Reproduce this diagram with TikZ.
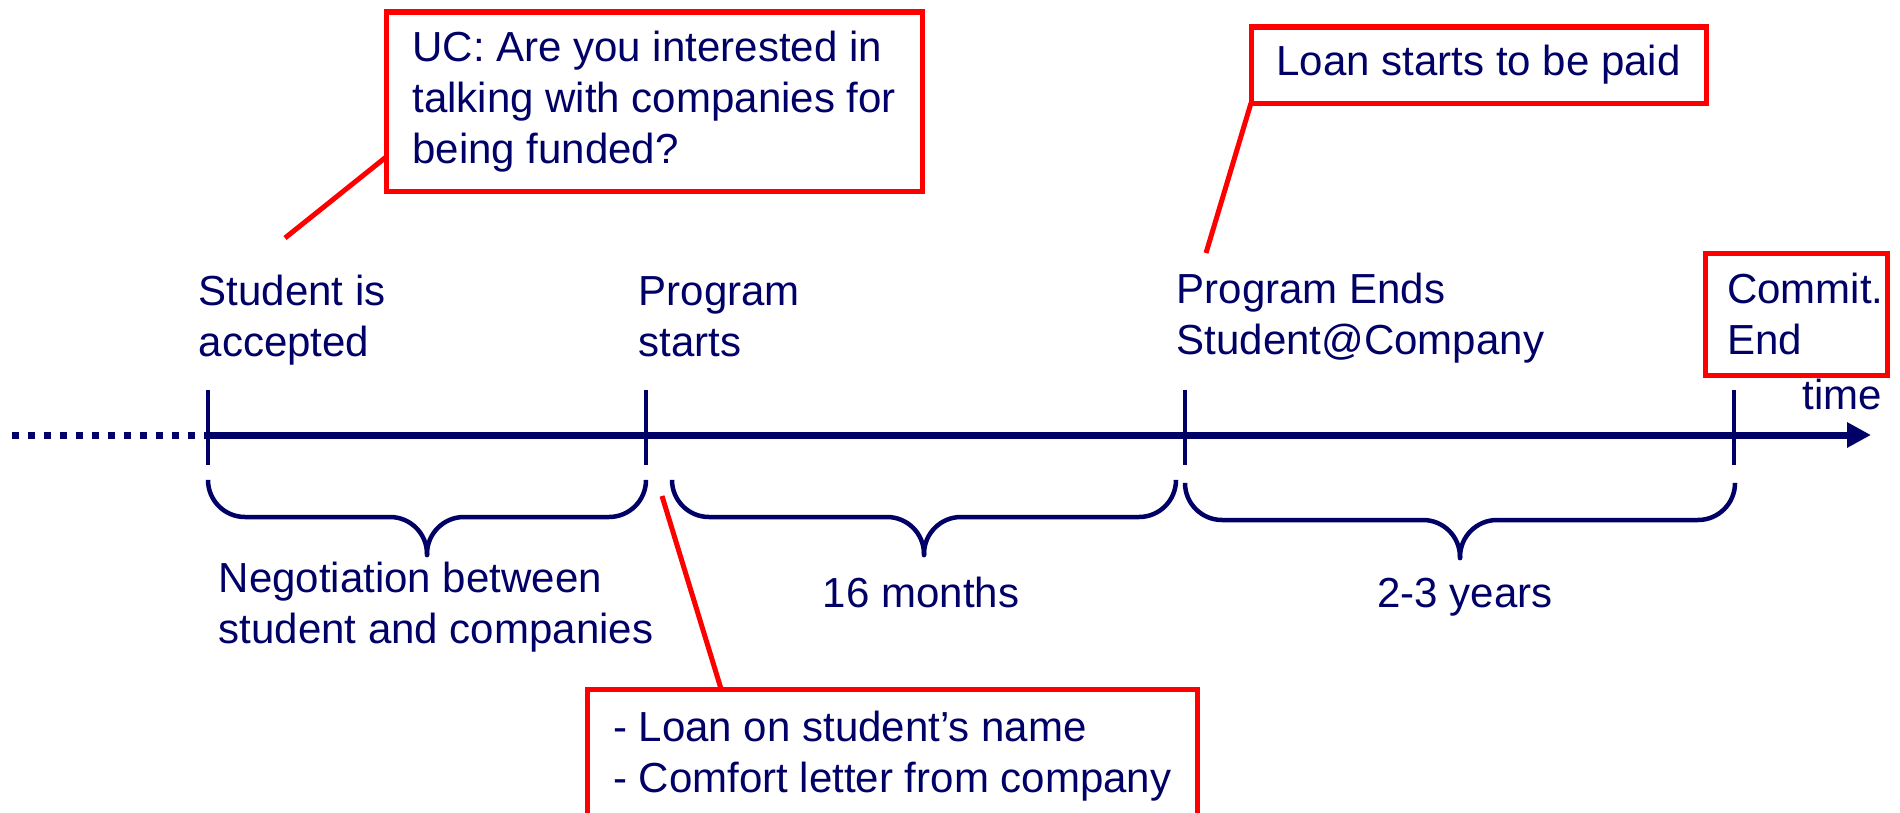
\documentclass[tikz,border=0pt]{standalone}
\usepackage{fontspec}
\setmainfont{Liberation Sans}
\usetikzlibrary{arrows.meta}
\definecolor{navy}{RGB}{0,0,102}
\definecolor{callred}{RGB}{255,0,0}
\tikzset{
  txt/.style={text=navy, inner sep=0pt, anchor=base west, align=left,
    font=\fontsize{11.95}{14.5}\selectfont},
  redbox/.style={draw=callred, line width=0.05cm, text=navy, align=left,
    anchor=north west, inner xsep=0.1cm, inner ysep=0pt, outer sep=0pt,
    font=\fontsize{11.95}{14.5}\selectfont},
  callout/.style={draw=callred, line width=0.05cm},
  tick/.style={draw=navy, line width=0.045cm},
  brace/.style={draw=navy, line width=0.045cm, rounded corners=0.37cm, line cap=round},
  axis/.style={draw=navy, line width=0.07cm, -{Triangle[length=0.24cm,width=0.24cm]}},
  dots/.style={draw=navy, line width=0.07cm, dash pattern=on 0.07cm off 0.09cm}
}
\begin{document}
\begin{tikzpicture}[x=0.01cm, y=-0.01cm]
    \useasboundingbox (0,0) rectangle (1900,812) ;
    \clip (0,0) rectangle (1900,812) ;
    \foreach \x/\n in {208/t1, 646/t2, 1185/t3, 1734/t4} {
      \coordinate (\n) at (\x,435) ;
      \draw[tick] ([yshift=0.45cm]\n) -- ([yshift=-0.30cm]\n) ;
    }
    \coordinate (dots) at (12,435) ;
    \coordinate (tip) at (1871,435) ;
    \draw[dots] (dots) -- (t1) ;
    \draw[axis] (t1) -- (tip) ;
    \foreach \a/\b/\t in {208/646/480, 672/1176/480, 1185/1735/483} {
      \pgfmathsetmacro\m{(\a+\b)/2}
      \draw[brace] (\a,\t) -- (\a,\t+37) -- (\m,\t+37) -- (\m,\t+75) ;
      \draw[brace] (\b,\t) -- (\b,\t+37) -- (\m,\t+37) -- (\m,\t+75) ;
    }
    \node[txt] (acc) at (198,356) {Student is\\accepted} ;
    \node[txt] (pstart) at (638,356) {Program\\starts} ;
    \node[txt] (pend) at (1176,354) {Program Ends\\Student@Company} ;
    \node[txt] (time) at (1802,409) {time} ;
    \node[txt] (nego) at (218,643) {Negotiation between\\student and companies} ;
    \node[txt, anchor=base] (months) at (921,607) {16 months} ;
    \node[txt, anchor=base] (years) at (1465,607) {2-3 years} ;
    \node[redbox, minimum width=5.36cm, minimum height=1.79cm] (uc) at (386,12)
      {UC: Are you interested in\\talking with companies for\\being funded?} ;
    \node[redbox, minimum width=4.55cm, minimum height=0.76cm] (loan) at (1251,27)
      {Loan starts to be paid} ;
    \node[redbox, inner xsep=0.22cm, text width=1.38cm, minimum width=1.82cm, minimum height=1.22cm] (cend) at (1705,253)
      {\mbox{Commit.}\\End} ;
    \node[redbox, minimum width=6.1cm, minimum height=1.35cm] (low) at (587,689)
      {- Loan on student’s name\\- Comfort letter from company} ;
    \coordinate (ucfoot) at (285,238) ;
    \coordinate (loanfoot) at (1206,253) ;
    \coordinate (lowfoot) at (662,496) ;
    \draw[callout] (ucfoot) -- ([yshift=0.34cm]uc.south west) ;
    \draw[callout] (loanfoot) -- (loan.south west) ;
    \draw[callout] (lowfoot) -- ([xshift=1.34cm]low.north west) ;
\end{tikzpicture}
\end{document}
